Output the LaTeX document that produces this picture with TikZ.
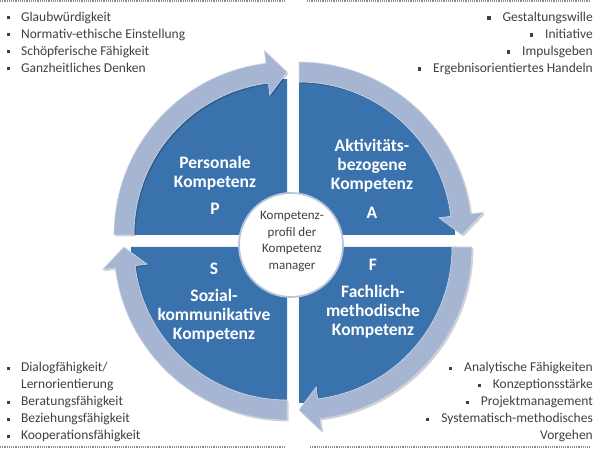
\documentclass[tikz,border=0pt]{standalone}
\usepackage{fontspec}
\setmainfont{Carlito}
\usepackage{tikz}
\usetikzlibrary{calc}
\definecolor{quadblau}{RGB}{58,114,174}
\definecolor{ringgrau}{RGB}{166,182,210}
\definecolor{textgrau}{RGB}{64,64,64}
\newcommand{\qpunkt}{\raisebox{0.3ex}{\rule{3.4pt}{3.4pt}}}

\begin{document}
\begin{tikzpicture}[x=1pt, y=1pt,
    quad/.style={fill=quadblau},
    ring/.style={fill=ringgrau, draw=white!45!ringgrau, line width=0.6pt},
    schatten/.style={fill=black, opacity=0.18},
    titel/.style={text=white, font=\fontsize{17.5}{18.8}\selectfont\bfseries, align=center, inner sep=0pt},
    buchst/.style={text=white, font=\fontsize{17.5}{18}\selectfont\bfseries, inner sep=0pt},
    liste/.style={text=textgrau, font=\fontsize{13.5}{17}\selectfont, inner sep=0pt},
    punkte/.style={textgrau!60, line width=1.2pt, dash pattern=on 1.1pt off 1.1pt}]
  \useasboundingbox (0,0) rectangle (595,450);
  \coordinate (mitte) at (293,209);

  % vier Viertel, jeweils mit Pfeilring im Uhrzeigersinn
  \foreach \sa/\ea/\dx/\dy in {180/90/-6/6, 90/0/6/6, 0/-90/6/-6, -90/-180/-6/-6} {
    \pgfmathsetmacro{\hb}{\ea+7}
    \begin{scope}[shift={($(mitte)+(\dx,\dy)$)}]
      \fill[quad] (0,0) -- (\sa:156) arc[start angle=\sa, end angle=\ea, radius=156] -- cycle;
      \fill[schatten, shift={(1.5,-1.5)}] (\sa:153) arc[start angle=\sa, end angle=\hb, radius=153]
        -- (\hb:141) -- (\ea:163) -- (\hb:186) -- (\hb:173)
        arc[start angle=\hb, end angle=\sa, radius=173] -- cycle;
      \filldraw[ring] (\sa:153) arc[start angle=\sa, end angle=\hb, radius=153]
        -- (\hb:141) -- (\ea:163) -- (\hb:186) -- (\hb:173)
        arc[start angle=\hb, end angle=\sa, radius=173] -- cycle;
    \end{scope}
  }

  % Mitte
  \node[circle, fill=white, draw=ringgrau!80, line width=1.8pt, minimum size=104pt, inner sep=0pt] (kreis) at (291,205) {};
  \node[text=textgrau, font=\fontsize{13}{16.4}\selectfont, align=center, inner sep=0pt] (profil) at (292,208.5)
    {Kompetenz-\\profil der\\Kompetenz\\manager};

  % Beschriftung der Viertel
  \node[titel] (personal) at (215,277) {Personale\\Kompetenz};
  \node[buchst] (p) at (215,241) {P};
  \node[titel] (aktiv) at (372,284) {Aktivitäts-\\bezogene\\Kompetenz};
  \node[buchst] (a) at (372,237) {A};
  \node[titel] (sozial) at (214,134) {Sozial-\\kommunikative\\Kompetenz};
  \node[buchst] (s) at (214,181) {S};
  \node[titel] (fach) at (373,138) {Fachlich-\\methodische\\Kompetenz};
  \node[buchst] (f) at (373,185) {F};

  % Listen in den Ecken
  \node[liste, anchor=north west, align=left] (pliste) at (6.5,438.5)
    {\qpunkt\hspace{11pt}Glaubwürdigkeit\\
     \qpunkt\hspace{11pt}Normativ-ethische Einstellung\\
     \qpunkt\hspace{11pt}Schöpferische Fähigkeit\\
     \qpunkt\hspace{11pt}Ganzheitliches Denken};
  \node[liste, anchor=north east, align=right] (aliste) at (593,438)
    {\qpunkt\hspace{12pt}Gestaltungswille\\
     \qpunkt\hspace{12pt}Initiative\\
     \qpunkt\hspace{12pt}Impulsgeben\\
     \qpunkt\hspace{12pt}Ergebnisorientiertes Handeln};
  \node[liste, anchor=south west, align=left] (sliste) at (6.5,7.5)
    {\qpunkt\hspace{11pt}Dialogfähigkeit/\\
     \phantom{\qpunkt}\hspace{11pt}Lernorientierung\\
     \qpunkt\hspace{11pt}Beratungsfähigkeit\\
     \qpunkt\hspace{11pt}Beziehungsfähigkeit\\
     \qpunkt\hspace{11pt}Kooperationsfähigkeit};
  \node[liste, anchor=south east, align=right] (fliste) at (593,7.5)
    {\qpunkt\hspace{12pt}Analytische Fähigkeiten\\
     \qpunkt\hspace{12pt}Konzeptionsstärke\\
     \qpunkt\hspace{12pt}Projektmanagement\\
     \qpunkt\hspace{12pt}Systematisch-methodisches\\
     Vorgehen};

  % gepunktete Trennlinien oben und unten
  \draw[punkte] (0,449) -- (284,449);
  \draw[punkte] (307,449) -- (590,449);
  \draw[punkte] (0,3) -- (284,3);
  \draw[punkte] (310,3) -- (590,3);
\end{tikzpicture}
\end{document}
